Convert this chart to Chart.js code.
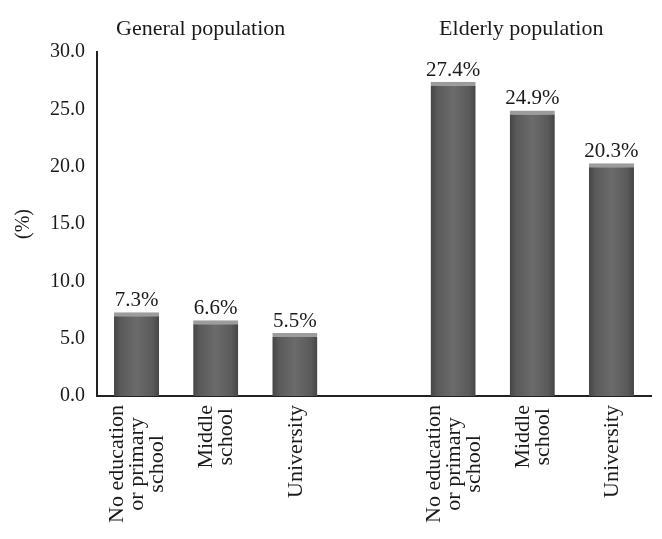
<!DOCTYPE html>
<html>
<head>
<meta charset="utf-8">
<script src="https://cdn.jsdelivr.net/npm/chart.js@4"></script>
<style>
  html, body { margin: 0; padding: 0; background: #fff; }
  #wrap { width: 662px; height: 539px; }
</style>
</head>
<body>
<div id="wrap"><canvas id="chart" width="662" height="539"></canvas></div>
<script>
// data
const categories = [
  ["No education", "or primary", "school"],
  ["Middle", "school"],
  ["University"],
  [],
  ["No education", "or primary", "school"],
  ["Middle", "school"],
  ["University"]
];
const generalValues = [7.3, 6.6, 5.5];
const elderlyValues = [27.4, 24.9, 20.3];
const groupTitles = ["General population", "Elderly population"];
const yTicks = [0, 5, 10, 15, 20, 25, 30];

const values = [...generalValues, null, ...elderlyValues];
const FONT = "'Liberation Serif', 'DejaVu Serif', serif";
const BAR_PCT = 0.57;

function barFill(ctx) {
  const chart = ctx.chart;
  if (!chart.chartArea) return "#5e5e5e";
  const xs = chart.scales.x;
  const cx = xs.getPixelForValue(ctx.dataIndex);
  const w = xs.width / categories.length * BAR_PCT;
  const g = chart.ctx.createLinearGradient(cx - w / 2, 0, cx + w / 2, 0);
  g.addColorStop(0, "#454545");
  g.addColorStop(0.15, "#5a5a5a");
  g.addColorStop(0.5, "#6b6b6b");
  g.addColorStop(0.85, "#5a5a5a");
  g.addColorStop(1, "#454545");
  return g;
}

// value labels, group titles and the rotated category labels
const decor = {
  id: "decor",
  afterDatasetsDraw(chart) {
    const c = chart.ctx;
    c.save();
    c.fillStyle = "#1a1a1a";
    c.font = "21px " + FONT;
    c.textAlign = "center";
    c.textBaseline = "alphabetic";
    chart.getDatasetMeta(0).data.forEach((bar, i) => {
      if (values[i] == null) return;
      c.fillText(values[i].toFixed(1) + "%", bar.x, bar.y - 6);
    });

    const xs = chart.scales.x;
    c.font = "22px " + FONT;
    c.fillText(groupTitles[0], xs.getPixelForValue(1) - 15, 35);
    c.fillText(groupTitles[1], xs.getPixelForValue(5) - 11, 35);

    c.textBaseline = "middle";
    const top = chart.chartArea.bottom + 9;
    const lh = 20;
    categories.forEach((lines, i) => {
      if (!lines.length) return;
      const cx = xs.getPixelForValue(i);
      const blockW = Math.max(...lines.map(l => c.measureText(l).width));
      lines.forEach((l, j) => {
        c.save();
        c.translate(cx + (j - (lines.length - 1) / 2) * lh + 1, top + blockW / 2);
        c.rotate(-Math.PI / 2);
        c.fillText(l, 0, 0);
        c.restore();
      });
    });
    c.restore();
  }
};

new Chart(document.getElementById("chart"), {
  type: "bar",
  data: {
    labels: categories.map((l, i) => "c" + i),
    datasets: [{
      data: values,
      backgroundColor: barFill,
      borderColor: "#9c9c9c",
      borderWidth: { top: 4, left: 0, right: 0, bottom: 0 },
      borderSkipped: "start",
      barPercentage: BAR_PCT,
      categoryPercentage: 1
    }]
  },
  options: {
    responsive: false,
    animation: false,
    layout: { padding: { top: 52, right: 11, bottom: 135, left: 2 } },
    plugins: { legend: { display: false }, tooltip: { enabled: false } },
    scales: {
      x: {
        grid: { display: false },
        border: { display: true, color: "#222", width: 2 },
        ticks: { display: false }
      },
      y: {
        min: 0,
        max: 30,
        afterBuildTicks: axis => { axis.ticks = yTicks.map(v => ({ value: v })); },
        grid: { display: false, drawTicks: false },
        border: { display: true, color: "#222", width: 2 },
        ticks: {
          padding: 12,
          color: "#1a1a1a",
          font: { family: FONT, size: 20 },
          callback: v => v.toFixed(1)
        },
        title: {
          display: true,
          text: "(%)",
          color: "#1a1a1a",
          font: { family: FONT, size: 20 },
          padding: { top: 10, bottom: 2 }
        }
      }
    }
  },
  plugins: [decor]
});
</script>
</body>
</html>
